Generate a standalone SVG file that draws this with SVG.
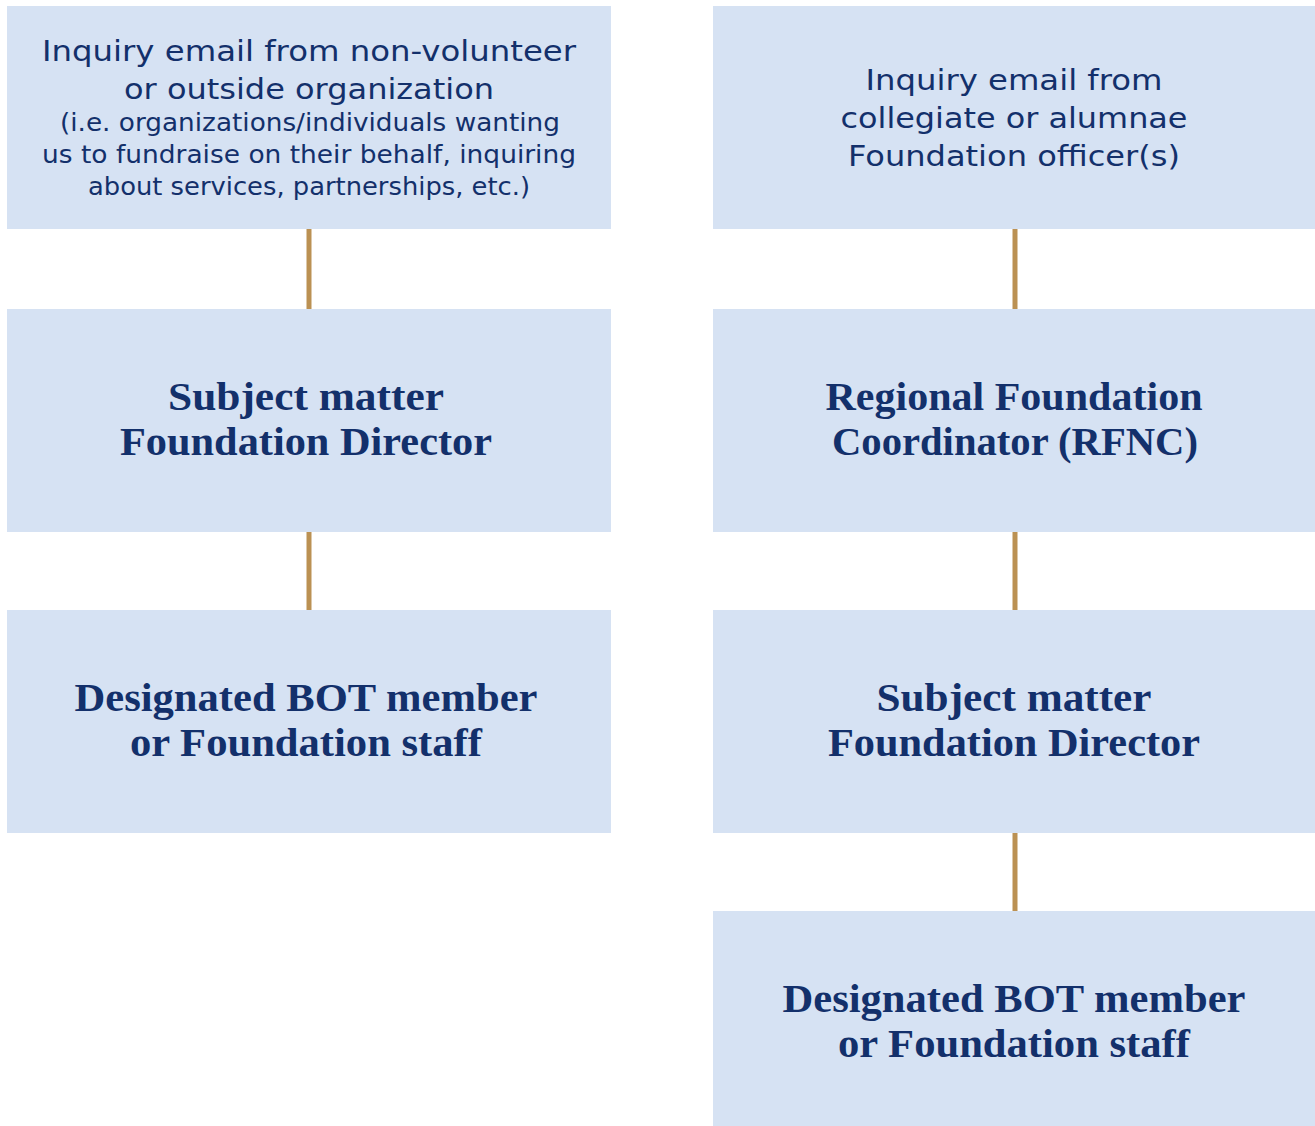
<svg xmlns="http://www.w3.org/2000/svg" width="1315" height="1126" viewBox="0 0 1315 1126">
<style>
.box{fill:#d6e2f3}
.conn{stroke:#bb9153;stroke-width:5;fill:none}
.sans{font-family:"DejaVu Sans","Noto Sans",sans-serif;fill:#13306b;text-anchor:middle}
.big{font-size:29px}
.small{font-size:24px}
.title{font-family:"Liberation Serif","DejaVu Serif",serif;font-weight:bold;font-size:40px;fill:#13306b;text-anchor:middle}
</style>
<rect width="1315" height="1126" fill="#ffffff"/>
<g id="connectors">
<line class="conn" x1="309" y1="229" x2="309" y2="309"/>
<line class="conn" x1="309" y1="532" x2="309" y2="610"/>
<line class="conn" x1="1015" y1="229" x2="1015" y2="309"/>
<line class="conn" x1="1015" y1="532" x2="1015" y2="610"/>
<line class="conn" x1="1015" y1="833" x2="1015" y2="911"/>
</g>
<g id="left1">
<rect class="box" x="7" y="6" width="604" height="223"/>
<text class="sans big" x="309" y="61" textLength="534" lengthAdjust="spacingAndGlyphs">Inquiry email from non-volunteer</text>
<text class="sans big" x="309" y="99" textLength="370" lengthAdjust="spacingAndGlyphs">or outside organization</text>
<text class="sans small" x="310" y="131" textLength="500" lengthAdjust="spacingAndGlyphs">(i.e. organizations/individuals wanting</text>
<text class="sans small" x="309" y="163" textLength="534" lengthAdjust="spacingAndGlyphs">us to fundraise on their behalf, inquiring</text>
<text class="sans small" x="309" y="195" textLength="442" lengthAdjust="spacingAndGlyphs">about services, partnerships, etc.)</text>
</g>
<g id="left2">
<rect class="box" x="7" y="309" width="604" height="223"/>
<text class="title" x="306" y="410" textLength="276" lengthAdjust="spacingAndGlyphs">Subject matter</text>
<text class="title" x="306" y="455" textLength="372" lengthAdjust="spacingAndGlyphs">Foundation Director</text>
</g>
<g id="left3">
<rect class="box" x="7" y="610" width="604" height="223"/>
<text class="title" x="306" y="711" textLength="463" lengthAdjust="spacingAndGlyphs">Designated BOT member</text>
<text class="title" x="306" y="756" textLength="352" lengthAdjust="spacingAndGlyphs">or Foundation staff</text>
</g>
<g id="right1">
<rect class="box" x="713" y="6" width="602" height="223"/>
<text class="sans big" x="1014" y="90" textLength="297" lengthAdjust="spacingAndGlyphs">Inquiry email from</text>
<text class="sans big" x="1014" y="128" textLength="347" lengthAdjust="spacingAndGlyphs">collegiate or alumnae</text>
<text class="sans big" x="1014" y="166" textLength="332" lengthAdjust="spacingAndGlyphs">Foundation officer(s)</text>
</g>
<g id="right2">
<rect class="box" x="713" y="309" width="602" height="223"/>
<text class="title" x="1014" y="410" textLength="377" lengthAdjust="spacingAndGlyphs">Regional Foundation</text>
<text class="title" x="1015" y="455" textLength="366" lengthAdjust="spacingAndGlyphs">Coordinator (RFNC)</text>
</g>
<g id="right3">
<rect class="box" x="713" y="610" width="602" height="223"/>
<text class="title" x="1014" y="711" textLength="275" lengthAdjust="spacingAndGlyphs">Subject matter</text>
<text class="title" x="1014" y="756" textLength="372" lengthAdjust="spacingAndGlyphs">Foundation Director</text>
</g>
<g id="right4">
<rect class="box" x="713" y="911" width="602" height="215"/>
<text class="title" x="1014" y="1012" textLength="463" lengthAdjust="spacingAndGlyphs">Designated BOT member</text>
<text class="title" x="1014" y="1057" textLength="352" lengthAdjust="spacingAndGlyphs">or Foundation staff</text>
</g>
</svg>
